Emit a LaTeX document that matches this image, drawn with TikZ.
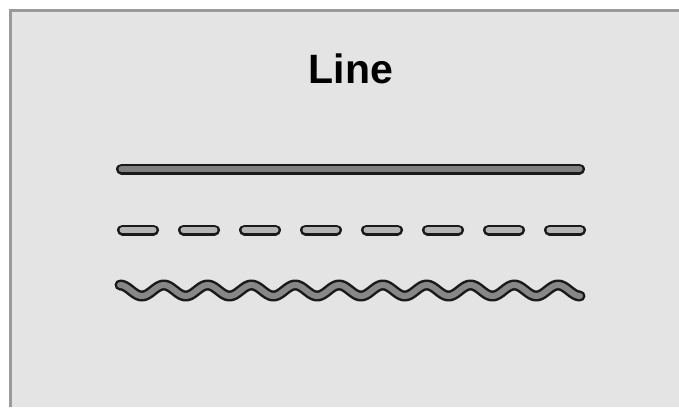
\documentclass[tikz,border=0pt]{standalone}
\usepackage{fontspec}
\setmainfont{Liberation Sans}
\definecolor{bgc}{HTML}{E4E4E4}
\definecolor{framec}{HTML}{9A9A9A}
\definecolor{outl}{HTML}{1A1A1A}
\definecolor{solidc}{HTML}{808080}
\definecolor{dashc}{HTML}{B4B4B4}
\definecolor{wavec}{HTML}{878787}
\begin{document}
\begin{tikzpicture}[x=1pt,y=-1pt,
  outer/.style={draw=outl,line width=11pt,line cap=round,line join=round},
  inner/.style={line width=6pt,line cap=round,line join=round}]
\useasboundingbox (0,0) rectangle (679,407);
\fill[white] (0,0) rectangle (679,407);
\fill[bgc] (9,9) rectangle (679,407);
\draw[framec,line width=3pt] (10.5,407) -- (10.5,10.5) -- (679,10.5);
\node[font=\bfseries\fontsize{41}{41}\selectfont,anchor=base] (title) at (351,83) {Line};
% solid line
\coordinate (s1) at (121.5,169);
\coordinate (s2) at (579.5,169);
\draw[outer] (s1) -- (s2);
\draw[inner,solidc] (s1) -- (s2);
% dashed line
\foreach \i in {0,...,7}{
  \draw[outer] (122.5+61*\i,230) -- (153.5+61*\i,230);
  \draw[inner,dashc] (122.5+61*\i,230) -- (153.5+61*\i,230);
}
% wavy line
\draw[outer] plot[domain=120:580,samples=300,smooth] (\x,{290.5-5.5*cos(8.217*(\x-120))});
\draw[inner,wavec] plot[domain=120:580,samples=300,smooth] (\x,{290.5-5.5*cos(8.217*(\x-120))});
\end{tikzpicture}
\end{document}
